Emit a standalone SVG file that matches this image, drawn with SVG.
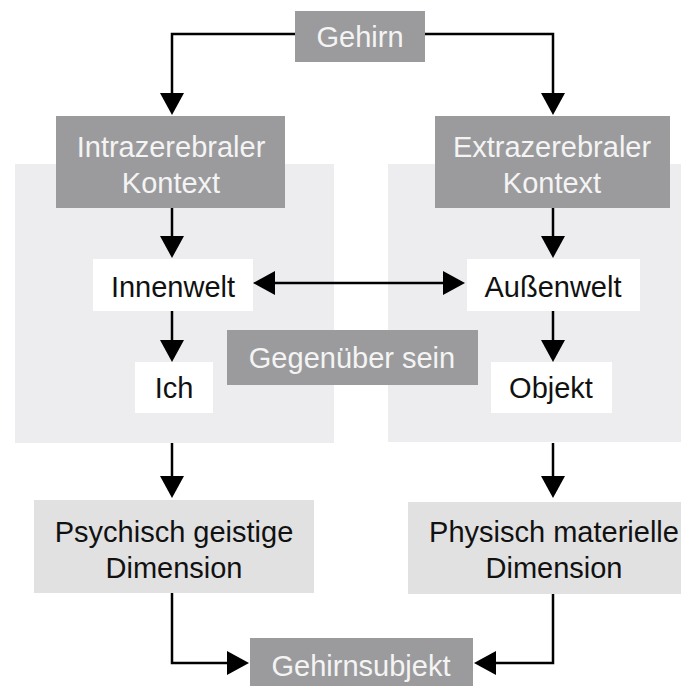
<svg xmlns="http://www.w3.org/2000/svg" width="681" height="686" viewBox="0 0 681 686">
<style>
.dark{fill:#9b9b9d}
.white{fill:#ffffff}
.light{fill:#e1e1e2}
.panel{fill:#ededef}
text{font-family:"Liberation Sans",Arial,sans-serif;font-size:29px;text-anchor:middle}
.tw{fill:#f4f4f4}
.tb{fill:#111111}
.conn path{fill:none;stroke:#000;stroke-width:2.5;marker-end:url(#ah)}
</style>
<defs>
<marker id="ah" viewBox="0 0 22 24" refX="18" refY="12" markerWidth="22" markerHeight="24" markerUnits="userSpaceOnUse" orient="auto-start-reverse">
<path d="M0,0 L22,12 L0,24 z" fill="#000"/>
</marker>
</defs>
<rect width="681" height="686" fill="#fff"/>
<g id="panels">
<rect class="panel" x="15" y="164" width="319" height="279"/>
<rect class="panel" x="388" y="164" width="293" height="278"/>
</g>
<g class="conn">
<path d="M295,34 H172 V111"/>
<path d="M425,34 H553 V111"/>
<path d="M172,208 V254"/>
<path d="M553,208 V254"/>
<path d="M257,283 H461" style="marker-start:url(#ah)"/>
<path d="M172,311 V358"/>
<path d="M553,311 V358"/>
<path d="M172,443 V494"/>
<path d="M553,443 V494"/>
<path d="M172,593 V663 H245"/>
<path d="M553,594 V663 H478"/>
</g>
<g id="gehirn">
<rect class="dark" x="295" y="11" width="130" height="51"/>
<text class="tw" x="360" y="47">Gehirn</text>
</g>
<g id="intra">
<rect class="dark" x="56" y="116" width="229" height="92"/>
<text class="tw" x="171" y="157">Intrazerebraler</text>
<text class="tw" x="171" y="193">Kontext</text>
</g>
<g id="extra">
<rect class="dark" x="435" y="116" width="235" height="92"/>
<text class="tw" x="552" y="157">Extrazerebraler</text>
<text class="tw" x="552" y="193">Kontext</text>
</g>
<g id="innenwelt">
<rect class="white" x="93" y="259" width="160" height="52"/>
<text class="tb" x="173" y="297">Innenwelt</text>
</g>
<g id="aussenwelt">
<rect class="white" x="467" y="259" width="173" height="52"/>
<text class="tb" x="553" y="297">Außenwelt</text>
</g>
<g id="gegenueber">
<rect class="dark" x="227" y="330" width="251" height="55"/>
<text class="tw" x="352" y="368">Gegenüber sein</text>
</g>
<g id="ich">
<rect class="white" x="135" y="362" width="78" height="51"/>
<text class="tb" x="174" y="398">Ich</text>
</g>
<g id="objekt">
<rect class="white" x="491" y="362" width="121" height="51"/>
<text class="tb" x="551" y="398">Objekt</text>
</g>
<g id="psychisch">
<rect class="light" x="34" y="500" width="280" height="93"/>
<text class="tb" x="174" y="542">Psychisch geistige</text>
<text class="tb" x="174" y="578">Dimension</text>
</g>
<g id="physisch">
<rect class="light" x="408" y="502" width="290" height="92"/>
<text class="tb" x="554" y="542">Physisch materielle</text>
<text class="tb" x="554" y="578">Dimension</text>
</g>
<g id="gehirnsubjekt">
<rect class="dark" x="250" y="638" width="223" height="52"/>
<text class="tw" x="361" y="676">Gehirnsubjekt</text>
</g>
</svg>
